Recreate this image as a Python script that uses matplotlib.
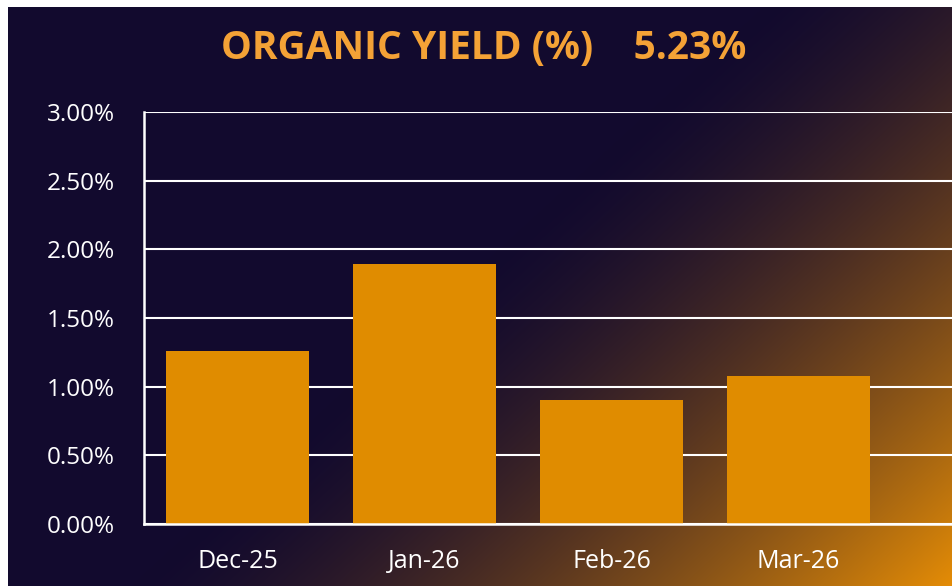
import matplotlib
matplotlib.use('Agg')
import matplotlib.pyplot as plt
import matplotlib.ticker as ticker
import numpy as np

# ── data ──────────────────────────────────────────
months = ['Dec-25', 'Jan-26', 'Feb-26', 'Mar-26']
yield_pct = [1.26, 1.89, 0.90, 1.08]
title_text = 'ORGANIC YIELD (%)'
total_text = '5.23%'

NAVY = np.array([18, 10, 46]) / 255
ORANGE = np.array([228, 140, 6]) / 255
BAR = '#E08C00'
TITLE = '#F4A236'

plt.rcParams['font.family'] = ['Open Sans', 'DejaVu Sans']

fig = plt.figure(figsize=(9.52, 5.86), dpi=100)
fig.patch.set_facecolor('white')

# background panel (navy -> orange glow in lower right)
W, H = 944, 579
bg = fig.add_axes([8 / 952, 0, 944 / 952, 579 / 586])
xx, yy = np.meshgrid(np.linspace(0, 1, W), np.linspace(0, 1, H))
s = xx + 0.67 * yy
t = np.clip((s - 0.8) / 0.87, 0, 1) ** 1.5
img = NAVY[None, None, :] * (1 - t[..., None]) + ORANGE[None, None, :] * t[..., None]
bg.imshow(img, aspect='auto', extent=(0, 1, 0, 1), origin='upper')
bg.set_axis_off()

ax = fig.add_axes([144 / 952, 62 / 586, 1 - 144 / 952, 412 / 586])
ax.patch.set_alpha(0)
x = np.arange(len(months))
ax.bar(x, yield_pct, width=0.765, color=BAR, zorder=3)

ax.set_xlim(-0.5, 3.82)
ax.set_ylim(0, 3.0)
ax.set_xticks(x)
ax.set_xticklabels(months, fontsize=18)
ax.yaxis.set_major_locator(ticker.MultipleLocator(0.5))
ax.yaxis.set_major_formatter(ticker.FuncFormatter(lambda v, p: f'{v:.2f}%'))
ax.tick_params(axis='both', length=0, colors='white')
ax.tick_params(axis='y', labelsize=17.5, pad=21)
ax.tick_params(axis='x', pad=18)
ax.grid(axis='y', color='white', linewidth=1.5, zorder=1)
for sp in ['top', 'right']:
    ax.spines[sp].set_visible(False)
for sp in ['left', 'bottom']:
    ax.spines[sp].set_color('white')
    ax.spines[sp].set_linewidth(1.8)
    ax.spines[sp].set_zorder(4)

fig.text(483.5 / 952, 1 - 48 / 586, f'{title_text}    {total_text}', ha='center', va='center',
         color=TITLE, fontsize=28, fontweight='bold')

fig.savefig('out.png', dpi=100, facecolor='white')
